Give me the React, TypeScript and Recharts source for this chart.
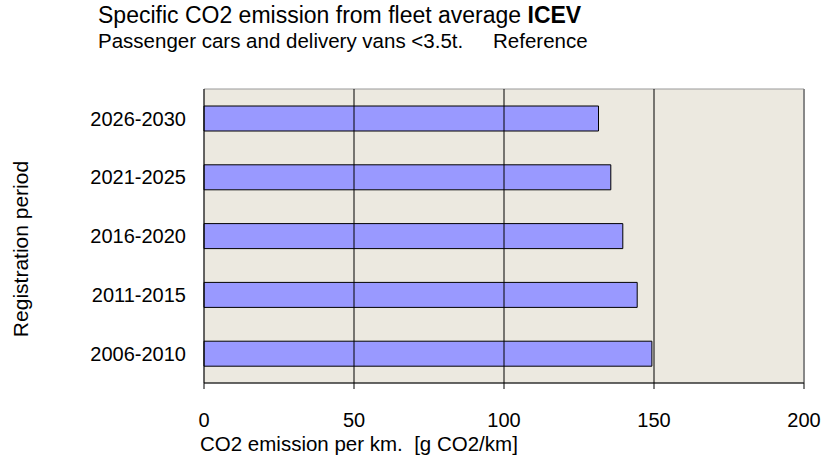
import React from "react";
import { BarChart, Bar, XAxis, YAxis, CartesianGrid, ReferenceLine, ReferenceArea } from "recharts";

const periods = ["2026-2030", "2021-2025", "2016-2020", "2011-2015", "2006-2010"];
const emissions = [131.5, 135.6, 139.6, 144.4, 149.3];
const xTicks = [0, 50, 100, 150, 200];

const data = periods.map((period, i) => ({ period, value: emissions[i] }));

const font = "'Liberation Sans', Arial, sans-serif";

export default function App() {
  return (
    <div style={{ position: "absolute", left: 0, top: 0, width: 823, height: 473, background: "#fff", fontFamily: font }}>
      <div style={{ position: "absolute", left: 98, top: 2, fontSize: 23, color: "#000", whiteSpace: "nowrap" }}>
        Specific CO2 emission from fleet average <b>ICEV</b>
      </div>
      <div style={{ position: "absolute", left: 98, top: 29, fontSize: 20.5, color: "#000", whiteSpace: "nowrap" }}>
        Passenger cars and delivery vans &lt;3.5t.
      </div>
      <div style={{ position: "absolute", left: 493, top: 29, fontSize: 20.5, color: "#000", whiteSpace: "nowrap" }}>
        Reference
      </div>
      <div
        style={{
          position: "absolute",
          left: 21,
          top: 249,
          fontSize: 21,
          color: "#000",
          whiteSpace: "nowrap",
          transform: "translate(-50%, -50%) rotate(-90deg)",
        }}
      >
        Registration period
      </div>
      <div style={{ position: "absolute", left: 200, top: 432, fontSize: 20.5, color: "#000", whiteSpace: "pre" }}>
        {"CO2 emission per km.  [g CO2/km]"}
      </div>
      <BarChart
        width={823}
        height={473}
        data={data}
        layout="vertical"
        margin={{ top: 89, right: 19, bottom: 30, left: 0 }}
      >
        <CartesianGrid horizontal={false} vertical={false} fill="#ECE9E0" />
        <ReferenceArea x1={0} x2={200} fill="none" stroke="#999" strokeWidth={1} />
        <ReferenceLine x={200} stroke="#888" strokeWidth={2} />
        {xTicks.slice(1, -1).map((t) => (
          <ReferenceLine key={t} x={t} stroke="#000" strokeWidth={1} />
        ))}
        <XAxis
          type="number"
          domain={[0, 200]}
          ticks={xTicks}
          height={60}
          stroke="#000"
          tickSize={6}
          tickMargin={24}
          tick={{ fill: "#000", fontSize: 20, fontFamily: font }}
        />
        <YAxis
          type="category"
          dataKey="period"
          width={204}
          stroke="#000"
          tickLine={false}
          tickSize={0}
          tickMargin={18}
          tick={{ fill: "#000", fontSize: 20, fontFamily: font }}
        />
        <Bar dataKey="value" fill="#9999FF" stroke="#000" strokeWidth={1} barSize={25} isAnimationActive={false} />
      </BarChart>
    </div>
  );
}
